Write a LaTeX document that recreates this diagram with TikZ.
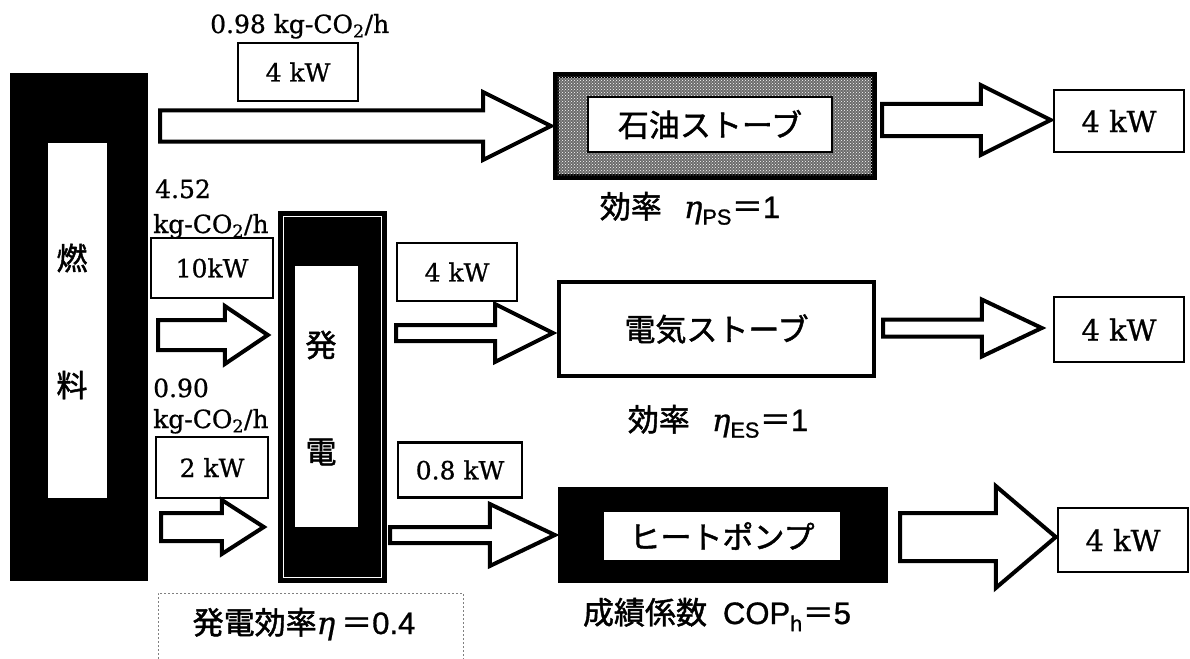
\documentclass[tikz,border=0pt]{standalone}
\usepackage{fontspec}
\setmainfont{DejaVu Serif}[FakeBold=0.8]
\newfontfamily\jp{Noto Sans CJK JP}[FakeBold=1.5]
\newfontfamily\sans{Liberation Sans}[FakeBold=1]
\usetikzlibrary{calc,patterns}
\newcommand{\kgco}{kg-CO\textsubscript{2}/h}
\newcommand{\fatarrow}[5]{%
  \draw[fat] let \p1=(#1), \p2=(#2) in
    (\x1,\y1+#3pt) -- (\x2-#5pt,\y1+#3pt) -- (\x2-#5pt,\y1+#4pt) -- (\x2,\y1)
    -- (\x2-#5pt,\y1-#4pt) -- (\x2-#5pt,\y1-#3pt) -- (\x1,\y1-#3pt) -- cycle;}

\begin{document}
\begin{tikzpicture}
[x=1pt,y=-1pt,
  every node/.style={inner sep=0pt},
  num/.style={font=\fontsize{25}{30}\selectfont},
  jpn/.style={font=\jp\fontsize{31}{36}\selectfont},
  lbl/.style={font=\fontsize{31}{36}\selectfont},
  kwbox/.style={draw,line width=2.5pt,fill=white,num},
  outbox/.style={kwbox,font=\fontsize{29}{34}\selectfont,minimum width=130},
  fat/.style={draw,fill=white,line width=4pt,line join=miter}]
\useasboundingbox (0,0) rectangle (1190,658);

\node[fill=black,minimum width=138,minimum height=508] (fuel) at (79,327) {};
\node[fill=white,minimum width=59,minimum height=355] (fuelin) at (77.5,320.5) {};
\node[jpn] (nen) at (72,258) {燃};
\node[jpn] (ryo) at (72,385) {料};

\node[fill=black,minimum width=109,minimum height=372] (gen) at (332.5,397) {};
\draw[white,line width=1.2pt] ($(gen.north west)+(6,6)$) rectangle ($(gen.south east)+(-6,-6)$);
\node[fill=white,minimum width=63,minimum height=261] (genin) at (326.5,396.5) {};
\node[jpn] (hatsu) at (321,345) {発};
\node[jpn] (den) at (321,452) {電};

\node[draw,line width=4pt,fill=black!58,minimum width=316,minimum height=100] (oil) at (715,126) {};
\fill[pattern=crosshatch dots,pattern color=white] (oil.north west) rectangle (oil.south east);
\draw[line width=4pt] (oil.north west) rectangle (oil.south east);
\node[draw,line width=1.2pt,fill=white,minimum width=244,minimum height=55,jpn] (oilin) at (710,124.5) {石油ストーブ};
\node[draw,line width=4pt,fill=white,minimum width=315,minimum height=94,jpn] (elec) at (716.5,329) {電気ストーブ};
\node[fill=black,minimum width=330,minimum height=96] (hp) at (723,535) {};
\node[fill=white,minimum width=236,minimum height=48,jpn] (hpin) at (722,536) {ヒートポンプ};

\node[kwbox,minimum width=120,minimum height=58] (oilkw) at (298,72) {4 kW};
\node[kwbox,minimum width=122,minimum height=60] (genkw) at (212,268) {10kW};
\node[kwbox,minimum width=112,minimum height=61] (hpkw) at (212,467.5) {2 kW};
\node[kwbox,minimum width=120,minimum height=58] (eleckw) at (457,272) {4 kW};
\node[kwbox,minimum width=124,minimum height=55] (hpelkw) at (460,470) {0.8 kW};
\node[outbox,minimum height=62] (out1) at (1119,121) {4 kW};
\node[outbox,minimum height=65] (out2) at (1119,329.5) {4 kW};
\node[outbox,minimum height=64] (out3) at (1123,540) {4 kW};

\node[num,anchor=base west] (co1) at (210,33) {0.98 \kgco};
\node[num,anchor=base west] (co2a) at (155,198) {4.52};
\node[num,anchor=base west] (co2b) at (153,233) {\kgco};
\node[num,anchor=base west] (co3a) at (153,397) {0.90};
\node[num,anchor=base west] (co3b) at (153,428) {\kgco};

\node[lbl,anchor=base] (effps) at (690,218) {{\jp 効率}\hspace{22pt}\textit{η}\textsubscript{\sans PS}{\jp ＝}{\sans 1}};
\node[lbl,anchor=base] (effes) at (718,431) {{\jp 効率}\hspace{22pt}\textit{η}\textsubscript{\sans ES}{\jp ＝}{\sans 1}};
\node[lbl,anchor=base] (cop) at (717,624) {{\jp 成績係数}\hspace{16pt}{\sans COP\textsubscript{h}}{\jp ＝}{\sans 5}};
\node[draw,gray,dash pattern=on 2pt off 2pt,line width=0.8pt,minimum width=305,minimum height=94] (genbox) at (310.5,640) {};
\node[lbl,anchor=base] (geneff) at (304,634) {{\jp 発電効率}\textit{η}\hspace{6pt}{\jp ＝}{\sans 0.4}};

\coordinate (t1) at (160,126);
\coordinate (t2) at (158,335);
\coordinate (t3) at (161,527);
\coordinate (t4) at (396,333);
\coordinate (t5) at (390,535);
\coordinate (t6) at (882,120);
\coordinate (t7) at (883,328);
\coordinate (t8) at (900,537);
\fatarrow{t1}{$(oil.west)+(-4,0)$}{15.5}{34}{68}
\fatarrow{t2}{$(gen.west)+(-10,0)$}{15}{29}{43}
\fatarrow{t3}{$(gen.west)+(-14,0)$}{14}{27}{42}
\fatarrow{t4}{$(elec.west)+(-4,0)$}{8}{29}{58}
\fatarrow{t5}{$(hp.west)+(-3,0)$}{8}{31}{65}
\fatarrow{t6}{$(out1.west)+(-2,0)$}{16}{35}{70}
\fatarrow{t7}{$(out2.west)+(-11,0)$}{8.5}{28.5}{60}
\fatarrow{t8}{$(out3.west)+(-1,0)$}{24}{51}{60}
\end{tikzpicture}
\end{document}
